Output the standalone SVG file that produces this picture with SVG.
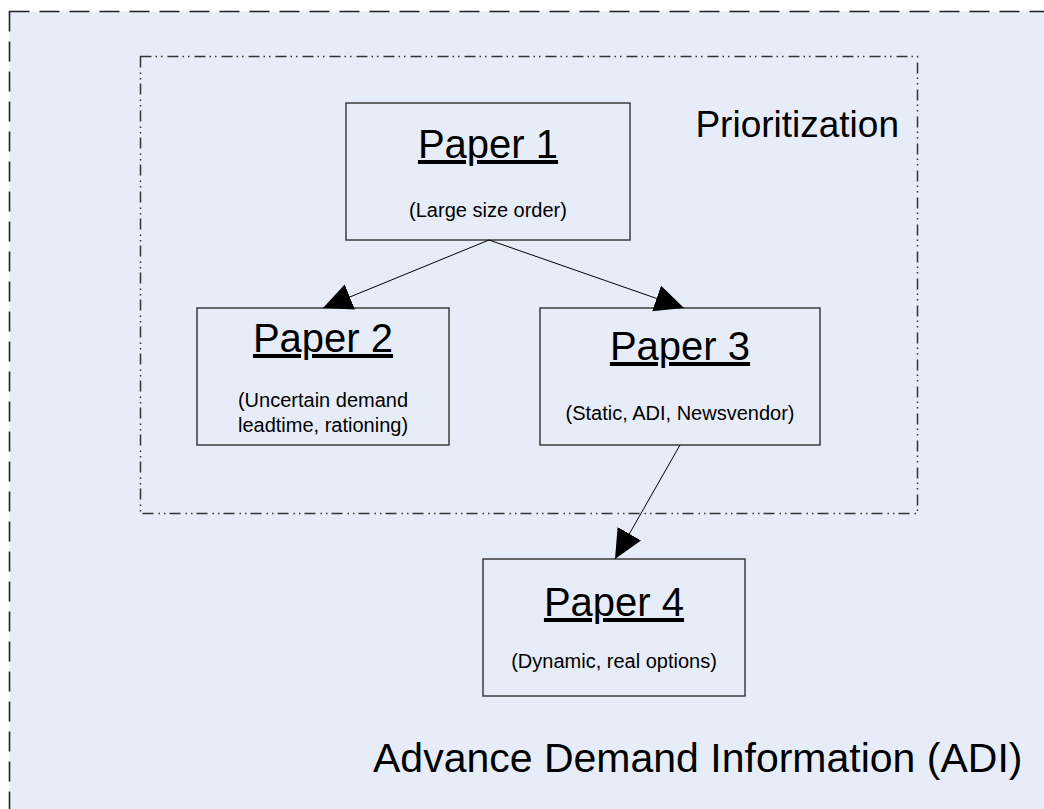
<svg xmlns="http://www.w3.org/2000/svg" width="1044" height="809" viewBox="0 0 1044 809">
  <style>
    .box { fill: none; stroke: #3c3c3c; stroke-width: 1.5; }
    .title { font-family: "Liberation Sans", Arial, sans-serif; font-size: 40px; text-anchor: middle; fill: #000; text-decoration: underline; }
    .sub { font-family: "Liberation Sans", Arial, sans-serif; font-size: 20px; text-anchor: middle; fill: #000; }
    .label { font-family: "Liberation Sans", Arial, sans-serif; fill: #000; }
    .link { stroke: #000; stroke-width: 1; fill: none; marker-end: url(#head); }
  </style>
  <defs>
    <marker id="head" markerUnits="userSpaceOnUse" markerWidth="30" markerHeight="28" refX="29" refY="13.5" orient="auto">
      <path d="M0,0 L29,13.5 L0,27 Z" fill="#000"/>
    </marker>
  </defs>

  <rect width="1044" height="809" fill="#ffffff"/>

  <!-- outer region: Advance Demand Information -->
  <g id="adi">
    <rect x="9.5" y="11.5" width="1050" height="820" fill="#e7edf8" stroke="#222" stroke-width="1.6" stroke-dasharray="20 10"/>
    <text class="label" x="373" y="772" font-size="41">Advance Demand Information (ADI)</text>
  </g>

  <!-- inner region: Prioritization -->
  <g id="prioritization">
    <rect x="140.5" y="56.5" width="777" height="457" fill="none" stroke="#333" stroke-width="1.5" stroke-dasharray="11 4 1.5 4 1.5 5"/>
    <text class="label" x="899" y="137" font-size="37" text-anchor="end">Prioritization</text>
  </g>

  <g id="paper1">
    <rect class="box" x="346" y="103" width="284" height="137"/>
    <text class="title" x="488" y="158">Paper 1</text>
    <text class="sub" x="488" y="217">(Large size order)</text>
  </g>

  <g id="paper2">
    <rect class="box" x="197" y="308" width="252" height="137"/>
    <text class="title" x="323" y="352">Paper 2</text>
    <text class="sub" x="323" y="407">(Uncertain demand</text>
    <text class="sub" x="323" y="432">leadtime, rationing)</text>
  </g>

  <g id="paper3">
    <rect class="box" x="540" y="308" width="280" height="137"/>
    <text class="title" x="680" y="360">Paper 3</text>
    <text class="sub" x="680" y="420">(Static, ADI, Newsvendor)</text>
  </g>

  <g id="paper4">
    <rect class="box" x="483" y="559" width="262" height="137"/>
    <text class="title" x="614" y="616">Paper 4</text>
    <text class="sub" x="614" y="668">(Dynamic, real options)</text>
  </g>

  <g id="connectors">
    <line class="link" x1="489" y1="240" x2="323" y2="308"/>
    <line class="link" x1="489" y1="240" x2="684" y2="308"/>
    <line class="link" x1="680" y1="445" x2="615" y2="559"/>
  </g>
</svg>
